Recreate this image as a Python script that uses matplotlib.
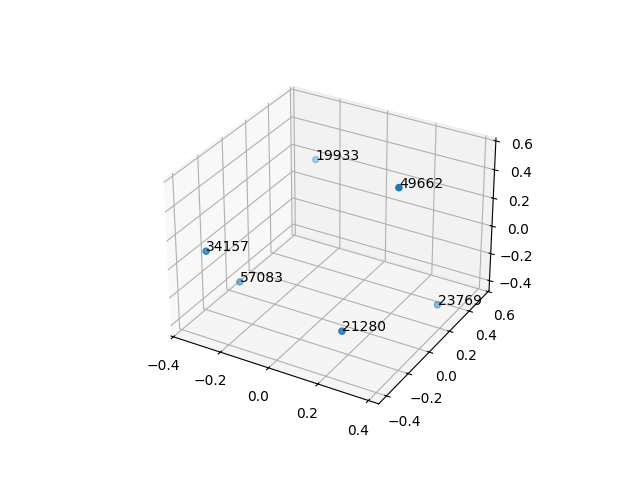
import matplotlib
matplotlib.use("Agg")
import matplotlib.pyplot as plt

labels = ["19933", "49662", "34157", "57083", "23769", "21280"]
xs = [-0.255, 0.265, -0.336, -0.31, 0.33, 0.174]
ys = [0.5, 0.1, -0.3, -0.08, 0.35, -0.2]
zs = [0.225, 0.518, 0.052, -0.31, -0.45, -0.32]

fig = plt.figure()
ax = fig.add_subplot(projection='3d')
ax.scatter(xs, ys, zs)
for i in range(len(labels)):
    ax.text(xs[i], ys[i], zs[i], labels[i])

ax.set_xlim(-0.41, 0.44)
ax.set_ylim(-0.47, 0.61)
ax.set_zlim(-0.475, 0.62)

plt.savefig("out.png")
